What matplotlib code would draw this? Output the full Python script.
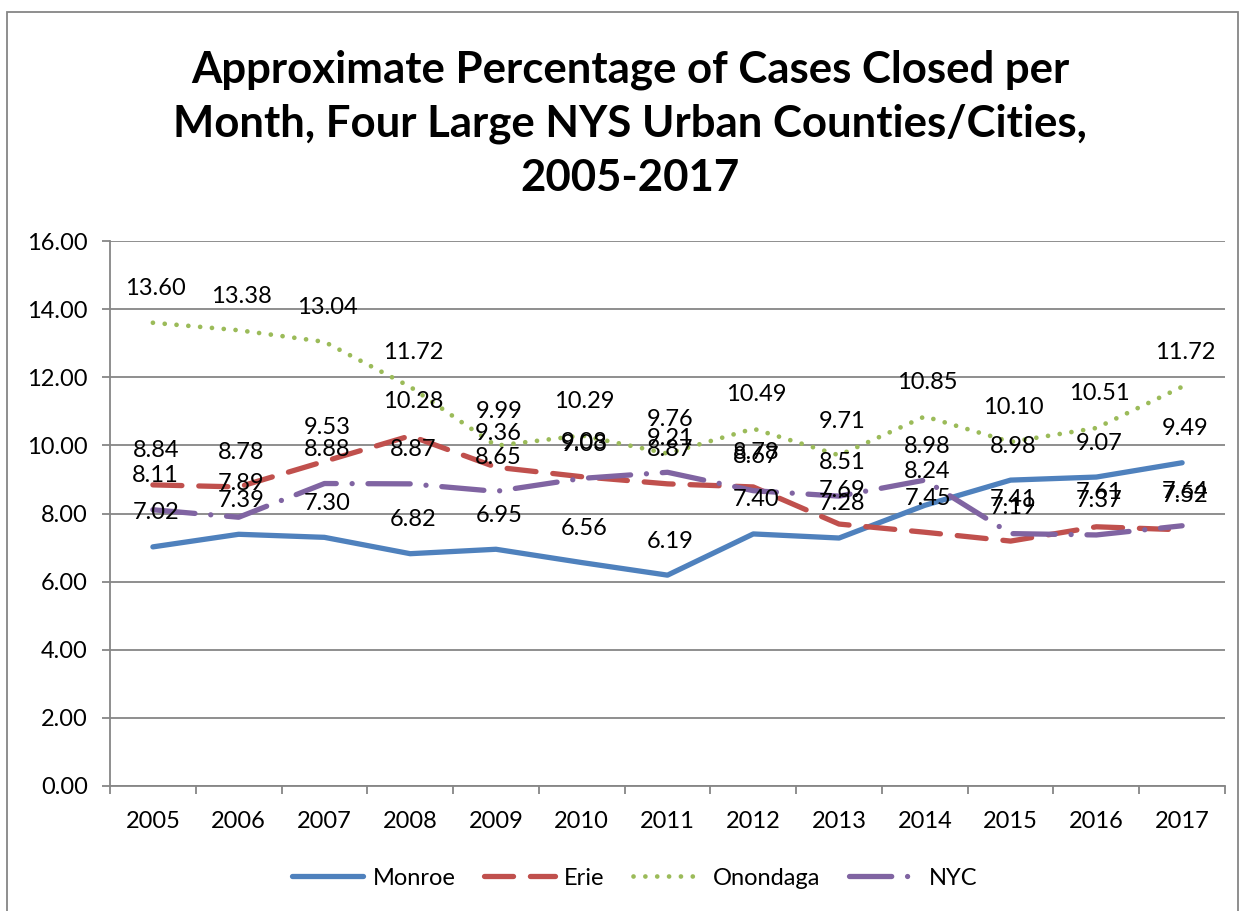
import matplotlib

matplotlib.use("Agg")
import matplotlib.pyplot as plt
from matplotlib.patches import Rectangle
import numpy as np

YEARS = ["2005", "2006", "2007", "2008", "2009", "2010", "2011",
         "2012", "2013", "2014", "2015", "2016", "2017"]
MONROE = [7.02, 7.39, 7.30, 6.82, 6.95, 6.56, 6.19, 7.40, 7.28, 8.24, 8.98, 9.07, 9.49]
ERIE = [8.84, 8.78, 9.53, 10.28, 9.36, 9.08, 8.87, 8.78, 7.69, 7.45, 7.19, 7.61, 7.52]
ONONDAGA = [13.60, 13.38, 13.04, 11.72, 9.99, 10.29, 9.76, 10.49, 9.71, 10.85, 10.10, 10.51, 11.72]
NYC = [8.11, 7.89, 8.88, 8.87, 8.65, 9.03, 9.21, 8.67, 8.51, 8.98, 7.41, 7.37, 7.64]

TITLE = ("Approximate Percentage of Cases Closed per\n"
         "Month, Four Large NYS Urban Counties/Cities,\n"
         "2005-2017")

plt.rcParams.update({
    "font.family": ["Lato", "DejaVu Sans"],
    "font.size": 17,
})

fig = plt.figure(figsize=(12.43, 9.11), dpi=100)
ax = fig.add_axes([110 / 1243, 125 / 911, 1115 / 1243, 545 / 911])

x = np.arange(len(YEARS))
grey = "#868686"

series = [
    ("Monroe", MONROE, dict(color="#4F81BD", lw=3.8, solid_capstyle="round")),
    ("Erie", ERIE, dict(color="#C0504D", lw=3.8, dashes=(5.5, 3.2), dash_capstyle="round")),
    ("Onondaga", ONONDAGA, dict(color="#9BBB59", lw=3.4, dashes=(0.01, 2.5), dash_capstyle="round")),
    ("NYC", NYC, dict(color="#8064A2", lw=3.8, dashes=(8, 3, 0.01, 3), dash_capstyle="round")),
]

for name, vals, style in series:
    ax.plot(x, vals, label=name, zorder=3, **style)
    for xi, v in zip(x, vals):
        ax.annotate(f"{v:.2f}", (xi, v), xytext=(2, 24.5), textcoords="offset points",
                    ha="center", va="center", fontsize=17, zorder=5)

ax.set_xlim(-0.5, len(YEARS) - 0.5)
ax.set_ylim(0, 16)
ax.set_yticks(np.arange(0, 17, 2))
ax.set_yticklabels([f"{v:.2f}" for v in np.arange(0, 17, 2)])
ax.yaxis.grid(True, color=grey, lw=1.3)
ax.set_axisbelow(True)

ax.set_xticks(np.arange(-0.5, len(YEARS), 1))
ax.set_xticklabels([])
ax.set_xticks(x, minor=True)
ax.set_xticklabels(YEARS, minor=True)
ax.tick_params(axis="x", which="major", length=6, width=1.3, color=grey, direction="out")
ax.tick_params(axis="x", which="minor", length=0, pad=18, labelsize=17)
ax.tick_params(axis="y", length=6, width=1.3, color=grey, pad=10, labelsize=17)

for side in ["top", "right"]:
    ax.spines[side].set_visible(False)
for side in ["left", "bottom"]:
    ax.spines[side].set_color(grey)
    ax.spines[side].set_linewidth(1.3)

fig.text(0.507, 0.864, TITLE, ha="center", va="center", fontsize=31.5,
         fontweight="bold", linespacing=1.42)

fig.legend(loc="center", bbox_to_anchor=(0.511, 0.036), ncol=4, frameon=False,
           handlelength=3.0, columnspacing=1.2, handletextpad=0.4, fontsize=17)

fig.patches.append(Rectangle((7 / 1243, -0.02), 1231 / 1243, 1.0 - 12 / 911 + 0.02,
                             transform=fig.transFigure, fill=False,
                             edgecolor=grey, lw=1.3))

fig.savefig("out.png", dpi=100, facecolor="white")
